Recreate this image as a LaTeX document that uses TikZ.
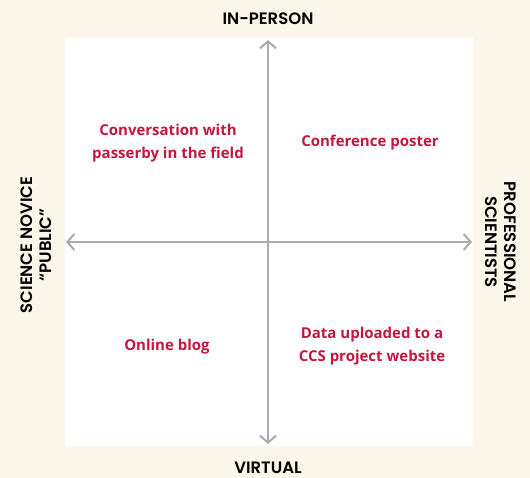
\documentclass[tikz,border=0pt]{standalone}
\usepackage{fontspec}
\setmainfont{Open Sans}
\newfontfamily\capsfont{Poppins}[BoldFont={Poppins SemiBold}]
\usepackage{tikz}
\usetikzlibrary{positioning}
\usetikzlibrary{arrows.meta}
\definecolor{paper}{HTML}{FBF6EA}
\definecolor{axisgray}{HTML}{ABABAB}
\definecolor{quadred}{HTML}{C4173F}
\tikzset{
  axis/.style={draw=axisgray, line width=2.4pt, -{Straight Barb[length=7pt,width=16pt,line width=2pt]}},
  example/.style={text=quadred, font=\fontsize{15}{23}\selectfont\bfseries, align=center},
  axislabel/.style={text=black, font=\capsfont\fontsize{16.5}{18.5}\selectfont\bfseries, align=center, inner sep=0pt}
}
\begin{document}
\begin{tikzpicture}[x=1pt, y=-1pt]

        % Background and white field
        \fill[paper] (0,0) rectangle (530,478);
        \useasboundingbox (0,0) rectangle (530,478);
        \fill[white] (65,38) rectangle (473,446);

        % Axis ends
        \coordinate (O) at (268,242);
        \coordinate (top) at (268,40);
        \coordinate (bottom) at (268,444);
        \coordinate (left) at (66,242);
        \coordinate (right) at (472,242);

        % Axes
        \draw[axis] (O) -- (top);
        \draw[axis] (O) -- (bottom);
        \draw[axis] (O) -- (left);
        \draw[axis] (O) -- (right);

        % Axis labels
        \node[axislabel, anchor=base] (inperson) at (268,25) {IN-PERSON};
        \node[axislabel, anchor=base] (virtual) at (268,473) {VIRTUAL};
        \node[axislabel, rotate=90] (public) at (36,245) {SCIENCE NOVICE\\“PUBLIC”};
        \node[axislabel, rotate=-90] (pros) at (501,242) {PROFESSIONAL\\SCIENTISTS};

        % Quadrant examples
        \node[example] (talk) at (168,143) {Conversation with\\passerby in the field};
        \node[example] (poster) at (370,143) {Conference poster};
        \node[example] (blog) at (167,347) {Online blog};
        \node[example] (upload) at (372,346) {Data uploaded to a\\CCS project website};

    \end{tikzpicture}
\end{document}
